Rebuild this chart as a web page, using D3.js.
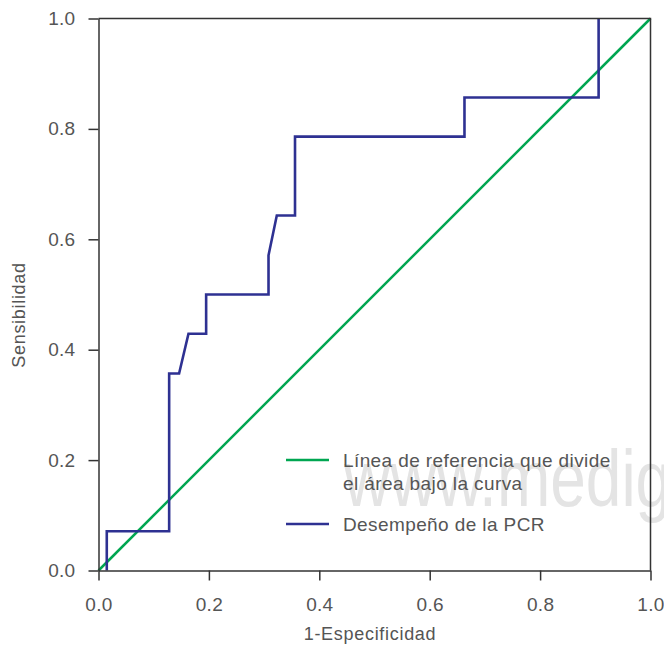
<!DOCTYPE html>
<html>
<head>
<meta charset="utf-8">
<script src="https://cdn.jsdelivr.net/npm/d3@7"></script>
<style>
  body { margin: 0; background: #fff; }
  svg { display: block; font-family: "Liberation Sans", Arial, sans-serif; }
</style>
</head>
<body>
<svg width="664" height="652"></svg>
<script>
// ROC curve
const fpr = [0.015, 0.015, 0.128, 0.128, 0.146, 0.163, 0.195, 0.195, 0.308, 0.308, 0.323, 0.356, 0.356, 0.663, 0.663, 0.906, 0.906];
const tpr = [0, 0.071, 0.071, 0.357, 0.357, 0.429, 0.429, 0.5, 0.5, 0.571, 0.643, 0.643, 0.786, 0.786, 0.857, 0.857, 1.0];
const ref_x = [0, 1];
const ref_y = [0, 1];
const ticks = [0, 0.2, 0.4, 0.6, 0.8, 1.0];
const legend_labels = [["Línea de referencia que divide", "el área bajo la curva"], ["Desempeño de la PCR"]];

const green = "#00a651";
const blue = "#2e3192";
const axis_col = "#333";
const text_col = "#555";

const m_left = 98.5, m_right = 650.5, m_top = 18.5, m_bottom = 570.5;

function init(){
  var svg = d3.select("svg");
  var x = d3.scaleLinear().domain([0, 1]).range([m_left, m_right]);
  var y = d3.scaleLinear().domain([0, 1]).range([m_bottom, m_top]);

  // watermark
  svg.append("text")
     .attr("x", 344)
     .attr("y", 506)
     .attr("font-size", 80)
     .attr("fill", "#e4e4e4")
     .attr("transform", "translate(344,0) scale(0.8,1) translate(-344,0)")
     .text("www.medigraphic.org.mx");

  var line = d3.line().x(d => x(d[0])).y(d => y(d[1]));

  svg.append("path")
     .datum(ref_x.map((v, i) => [v, ref_y[i]]))
     .attr("d", line)
     .attr("fill", "none")
     .attr("stroke", green)
     .attr("stroke-width", 2.5);

  svg.append("path")
     .datum(fpr.map((v, i) => [v, tpr[i]]))
     .attr("d", line)
     .attr("fill", "none")
     .attr("stroke", blue)
     .attr("stroke-width", 2.6);

  // frame top / right
  svg.append("path")
     .attr("d", "M" + m_left + "," + m_top + "H" + m_right + "V" + m_bottom)
     .attr("fill", "none")
     .attr("stroke", axis_col)
     .attr("stroke-width", 1.5);

  var fmt = d3.format(".1f");
  var xa = svg.append("g")
     .attr("transform", "translate(0," + m_bottom + ")")
     .call(d3.axisBottom(x).tickValues(ticks).tickFormat(fmt).tickSize(10).tickSizeOuter(0).tickPadding(17));
  var ya = svg.append("g")
     .attr("transform", "translate(" + m_left + ",0)")
     .call(d3.axisLeft(y).tickValues(ticks).tickFormat(fmt).tickSize(10).tickSizeOuter(0).tickPadding(13));

  [xa, ya].forEach(function(a){
    a.selectAll("path.domain").attr("stroke", axis_col).attr("stroke-width", 1.5);
    a.selectAll(".tick line").attr("stroke", axis_col).attr("stroke-width", 1.5);
    a.selectAll(".tick text")
     .attr("fill", text_col)
     .attr("font-size", 19)
     .attr("letter-spacing", 0.3)
     .attr("font-family", "Liberation Sans, Arial, sans-serif");
  });

  svg.append("text")
     .attr("x", 370)
     .attr("y", 640)
     .attr("text-anchor", "middle")
     .attr("font-size", 18)
     .attr("letter-spacing", 0.7)
     .attr("fill", text_col)
     .text("1-Especificidad");

  svg.append("text")
     .attr("transform", "translate(25,315) rotate(-90)")
     .attr("text-anchor", "middle")
     .attr("font-size", 18)
     .attr("letter-spacing", 0.7)
     .attr("fill", text_col)
     .text("Sensibilidad");

  // legend
  var leg = [{col: green, y: 460, lines: legend_labels[0]}, {col: blue, y: 524, lines: legend_labels[1]}];
  leg.forEach(function(d){
    svg.append("line")
       .attr("x1", 286).attr("x2", 329)
       .attr("y1", d.y).attr("y2", d.y)
       .attr("stroke", d.col)
       .attr("stroke-width", 2.5);
    d.lines.forEach(function(t, i){
      svg.append("text")
         .attr("x", 343)
         .attr("y", d.y + 6.5 + i * 23)
         .attr("font-size", 19)
         .attr("letter-spacing", 0.4)
         .attr("fill", text_col)
         .text(t);
    });
  });
}

window.addEventListener("load", init);
</script>
</body>
</html>
